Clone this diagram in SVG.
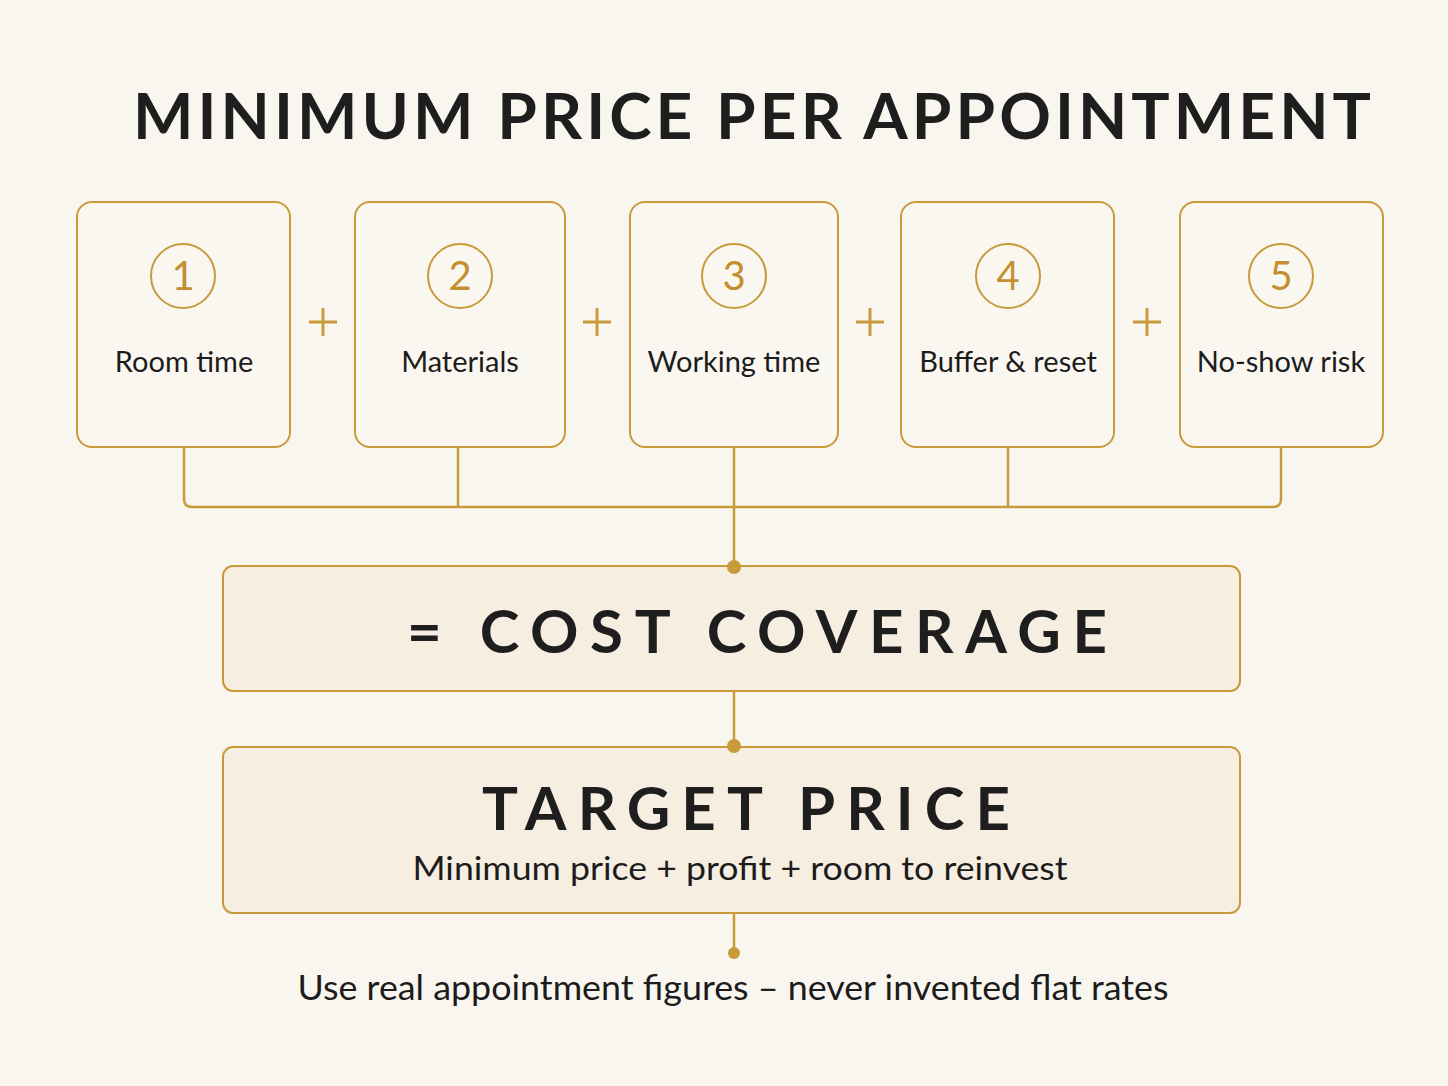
<svg xmlns="http://www.w3.org/2000/svg" width="1448" height="1086" viewBox="0 0 1448 1086">
<style>
.bg{fill:#f9f6ef}
.card{fill:#faf7f0;stroke:#c99a3a;stroke-width:2}
.num{fill:none;stroke:#c99a3a;stroke-width:2}
.numt{font-family:Lato,"Noto Sans",sans-serif;font-size:40px;fill:#c29030;text-anchor:middle}
.lbl{font-family:Lato,"Noto Sans",sans-serif;font-size:29px;fill:#1c1c1c;text-anchor:middle}
.plus{stroke:#c99a3a;stroke-width:3;fill:none}
.conn{stroke:#c99a3a;stroke-width:2.5;fill:none}
.dot{fill:#c99a3a}
.band{fill:#f7eee2;stroke:#c99a3a;stroke-width:2}
.big{font-family:Lato,"Noto Sans",sans-serif;font-weight:700;fill:#1e1e1e;text-anchor:middle}
.sub{font-family:Lato,"Noto Sans",sans-serif;fill:#1c1c1c;text-anchor:middle}
</style>
<rect class="bg" x="0" y="0" width="1448" height="1086"/>
<text class="big" x="752" y="139" font-size="64" textLength="1238" lengthAdjust="spacing">MINIMUM PRICE PER APPOINTMENT</text>
<g id="node1">
<rect class="card" x="77" y="202" width="213" height="245" rx="15"/>
<circle class="num" cx="183" cy="276" r="32"/>
<text class="numt" x="183" y="290">1</text>
<text class="lbl" x="184" y="372">Room time</text>
</g>
<g id="node2">
<rect class="card" x="355" y="202" width="210" height="245" rx="15"/>
<circle class="num" cx="460" cy="276" r="32"/>
<text class="numt" x="460" y="290">2</text>
<text class="lbl" x="460" y="372">Materials</text>
</g>
<g id="node3">
<rect class="card" x="630" y="202" width="208" height="245" rx="15"/>
<circle class="num" cx="734" cy="276" r="32"/>
<text class="numt" x="734" y="290">3</text>
<text class="lbl" x="734" y="372">Working time</text>
</g>
<g id="node4">
<rect class="card" x="901" y="202" width="213" height="245" rx="15"/>
<circle class="num" cx="1008" cy="276" r="32"/>
<text class="numt" x="1008" y="290">4</text>
<text class="lbl" x="1008" y="372">Buffer &amp; reset</text>
</g>
<g id="node5">
<rect class="card" x="1180" y="202" width="203" height="245" rx="15"/>
<circle class="num" cx="1281" cy="276" r="32"/>
<text class="numt" x="1281" y="290">5</text>
<text class="lbl" x="1281" y="372">No-show risk</text>
</g>
<g id="cost">
<rect class="band" x="223" y="566" width="1017" height="125" rx="10"/>
<text class="big" x="757" y="653" font-size="60" textLength="700" lengthAdjust="spacing">= COST COVERAGE</text>
</g>
<g id="target">
<rect class="band" x="223" y="747" width="1017" height="166" rx="10"/>
<text class="big" x="746" y="830" font-size="60" textLength="528" lengthAdjust="spacing">TARGET PRICE</text>
<text class="sub" x="740" y="880" font-size="33" textLength="655" lengthAdjust="spacingAndGlyphs">Minimum price + profit + room to reinvest</text>
</g>
<g id="note">
<text class="sub" x="733" y="1000" font-size="35" textLength="871" lengthAdjust="spacingAndGlyphs">Use real appointment figures – never invented flat rates</text>
</g>
<g id="connectors">
<path class="conn" d="M184 447 V499 Q184 507 192 507 H1273 Q1281 507 1281 499 V447"/>
<path class="conn" d="M458 447 V507 M734 447 V567 M1008 447 V507"/>
<circle class="dot" cx="734" cy="567" r="7"/>
<path class="conn" d="M734 691 V746"/>
<circle class="dot" cx="734" cy="746" r="7"/>
<path class="conn" d="M734 913 V953"/>
<circle class="dot" cx="734" cy="953" r="6"/>
<path class="plus" d="M309 322 H337 M323 308 V336"/>
<path class="plus" d="M583 322 H611 M597 308 V336"/>
<path class="plus" d="M856 322 H884 M870 308 V336"/>
<path class="plus" d="M1133 322 H1161 M1147 308 V336"/>
</g>
</svg>
